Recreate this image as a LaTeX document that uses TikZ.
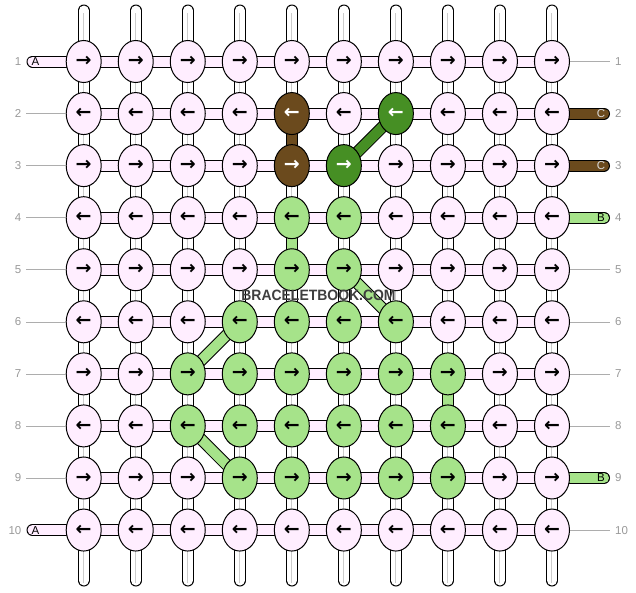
\documentclass[tikz,border=0pt]{standalone}
\usepackage{fontspec}
\setmainfont{Liberation Sans}
\newfontfamily\arrowfont{DejaVu Sans}
\usetikzlibrary{shapes.geometric}
\definecolor{kpink}{HTML}{FFEEFF}
\definecolor{klgreen}{HTML}{A6E38A}
\definecolor{kdgreen}{HTML}{468F24}
\definecolor{kbrown}{HTML}{6B4A1D}
\definecolor{labgray}{HTML}{999999}
\definecolor{midline}{HTML}{CCCCCC}
\definecolor{wmark}{HTML}{3F3F3F}
\tikzset{
  strand/.style={draw=black, line width=1pt, double distance=10pt},
  pinkstr/.style={strand, double=kpink},
  whitestr/.style={strand, double=white},
  lgstr/.style={strand, double=klgreen},
  dgstr/.style={strand, double=kdgreen},
  brstr/.style={strand, double=kbrown},
  centerline/.style={draw=midline, line width=1pt},
  guide/.style={draw=labgray!80, line width=0.6pt},
  knot/.style={ellipse, draw=black, line width=1pt, minimum width=35pt,
    minimum height=42pt, inner sep=0pt,
    font=\arrowfont\bfseries\fontsize{19}{19}\selectfont},
  knotP/.style={fill=kpink, text=black},
  knotL/.style={fill=klgreen, text=black},
  knotD/.style={fill=kdgreen, text=white},
  knotB/.style={fill=kbrown, text=white},
  rowlab/.style={text=labgray, font=\fontsize{11.5}{11.5}\selectfont, inner sep=0pt},
  endlab/.style={font=\fontsize{11.5}{11.5}\selectfont, inner sep=0pt},
}
\begin{document}
\begin{tikzpicture}[x=1pt,y=-1pt]
\useasboundingbox (0,0) rectangle (636,592);
% positions
\foreach \r in {1,...,10}{
  \foreach \c in {1,...,10}{
    \coordinate (p-\r-\c) at ({83.7+52.03*(\c-1)},{61.5+52.06*(\r-1)});
  }
  \coordinate (lend-\r) at (32.5,{61.5+52.06*(\r-1)});
  \coordinate (rend-\r) at (604,{61.5+52.06*(\r-1)});
  \coordinate (lg-\r) at (26,{61.5+52.06*(\r-1)});
  \coordinate (rg-\r) at (610,{61.5+52.06*(\r-1)});
}
\foreach \c in {1,...,10}{
  \coordinate (top-\c) at ({83.7+52.03*(\c-1)},10.5);
  \coordinate (topc-\c) at ({83.7+52.03*(\c-1)},13);
  \coordinate (bot-\c) at ({83.7+52.03*(\c-1)},580.5);
  \coordinate (botc-\c) at ({83.7+52.03*(\c-1)},583);
}
% vertical base strands
\foreach \c in {1,...,10}{
  \draw[whitestr, line cap=round] (top-\c) -- (p-1-\c);
  \draw[centerline] (topc-\c) -- (p-1-\c);
  \draw[whitestr, line cap=round] (bot-\c) -- (p-10-\c);
  \draw[centerline] (botc-\c) -- (p-10-\c);
  \foreach \r [count=\rn from 2] in {1,...,9}{
    \draw[whitestr] (p-\r-\c) -- (p-\rn-\c);
    \draw[centerline] (p-\r-\c) -- (p-\rn-\c);
  }
}
% coloured vertical pieces
\draw[brstr] (p-2-5) -- (p-3-5);
\draw[lgstr] (p-4-5) -- (p-5-5);
\draw[lgstr] (p-7-8) -- (p-8-8);
% diagonal pieces
\draw[dgstr] (p-2-7) -- (p-3-6);
\draw[lgstr] (p-5-6) -- (p-6-7);
\draw[lgstr] (p-7-3) -- (p-6-4);
\draw[lgstr] (p-8-3) -- (p-9-4);
% horizontal strands
\foreach \r in {1,...,10}{
  \foreach \c [count=\cn from 2] in {1,...,9}{
    \draw[pinkstr] (p-\r-\c) -- (p-\r-\cn);
  }
}
% strand ends
\draw[pinkstr, line cap=round] (lend-1) -- (p-1-1);
\draw[pinkstr, line cap=round] (lend-10) -- (p-10-1);
\draw[brstr, line cap=round] (rend-2) -- (p-2-10);
\draw[brstr, line cap=round] (rend-3) -- (p-3-10);
\draw[lgstr, line cap=round] (rend-4) -- (p-4-10);
\draw[lgstr, line cap=round] (rend-9) -- (p-9-10);
% knots
\foreach \r/\cols in {
  1/{P,P,P,P,P,P,P,P,P,P},
  2/{P,P,P,P,B,P,D,P,P,P},
  3/{P,P,P,P,B,D,P,P,P,P},
  4/{P,P,P,P,L,L,P,P,P,P},
  5/{P,P,P,P,L,L,P,P,P,P},
  6/{P,P,P,L,L,L,L,P,P,P},
  7/{P,P,L,L,L,L,L,L,P,P},
  8/{P,P,L,L,L,L,L,L,P,P},
  9/{P,P,P,L,L,L,L,L,P,P},
  10/{P,P,P,P,P,P,P,P,P,P}}{
  \foreach \k [count=\c] in \cols {
    \node[knot, knot\k] (k-\r-\c) at (p-\r-\c) {\ifodd\r →\else ←\fi};
  }
}
% guide lines
\foreach \r in {2,...,9}{
  \draw[guide] (lg-\r) -- (k-\r-1.west);
}
\foreach \r in {1,5,6,7,8,10}{
  \draw[guide] (k-\r-10.east) -- (rg-\r);
}
% row numbers
\foreach \r in {1,...,10}{
  \node[rowlab, anchor=east] (ln-\r) at (21.5,{61.5+52.06*(\r-1)}) {\r};
  \node[rowlab, anchor=west] (rn-\r) at (615,{61.5+52.06*(\r-1)}) {\r};
}
% strand letters
\node[endlab] (la-1) at (35.5,61.5) {A};
\node[endlab] (la-10) at (35.5,{61.5+52.06*9}) {A};
\node[endlab, text=white!85!black] (rc-2) at (601,{61.5+52.06}) {C};
\node[endlab, text=white!85!black] (rc-3) at (601,{61.5+52.06*2}) {C};
\node[endlab] (rb-4) at (601,{61.5+52.06*3}) {B};
\node[endlab] (rb-9) at (601,{61.5+52.06*8}) {B};
% watermark
\node[text=wmark, font=\bfseries\fontsize{15}{15}\selectfont, xscale=0.93, transform shape, inner sep=0pt] (wm) at (318.5,295.5) {BRACELETBOOK.COM};
\end{tikzpicture}
\end{document}
